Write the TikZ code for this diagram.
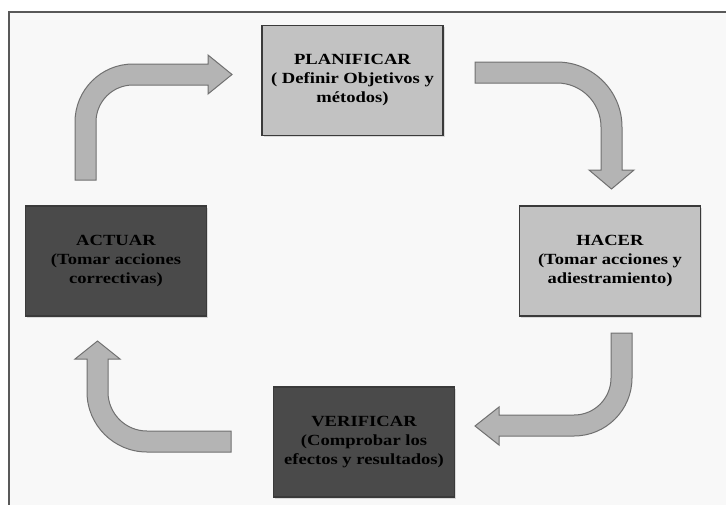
\documentclass[tikz,border=0pt]{standalone}
\usepackage{fontspec}
\setmainfont[FakeStretch=1.2]{Liberation Serif}
\usetikzlibrary{shadows}
\definecolor{bgcol}{HTML}{F8F8F8}
\definecolor{lightfill}{HTML}{C2C2C2}
\definecolor{darkfill}{HTML}{4A4A4A}
\definecolor{boxline}{HTML}{3A3A3A}
\definecolor{arrowfill}{HTML}{B4B4B4}
\definecolor{arrowline}{HTML}{707070}
\begin{document}
\begin{tikzpicture}[x=1pt,y=-1pt,
  phasebox/.style={draw=boxline,line width=1.5pt,minimum width=181pt,minimum height=110pt,
    align=center,font=\fontsize{15.5}{19}\selectfont\bfseries,
    drop shadow={shadow xshift=1.5pt,shadow yshift=-1.5pt,opacity=0.25}},
  lightbox/.style={phasebox,fill=lightfill},
  darkbox/.style={phasebox,fill=darkfill},
  blockarrow/.style={fill=arrowfill,draw=arrowline,line width=1pt,line join=miter}]
\useasboundingbox (0,0) rectangle (726,504);
\filldraw[fill=bgcol,draw=gray!70!black,line width=2pt] (9,12) rectangle (740,520);
\node[lightbox] (plan) at (352.5,80.5) {PLANIFICAR\\( Definir Objetivos y\\métodos)};
\node[lightbox] (hacer) at (610,261) {HACER\\(Tomar acciones y\\adiestramiento)};
\node[darkbox] (actuar) at (116,261) {ACTUAR\\(Tomar acciones\\correctivas)};
\node[darkbox] (verif) at (364,442) {VERIFICAR\\(Comprobar los\\efectos y resultados)};
% actuar -> planificar
\draw[blockarrow] (75,180) -- (75,122) arc[start angle=180,end angle=270,radius=58]
  -- (208,64) -- (208,55) -- (232,74.5) -- (208,94) -- (208,85) -- (133,85)
  arc[start angle=270,end angle=180,radius=37] -- (96,180) -- cycle;
% planificar -> hacer
\draw[blockarrow] (475,62) -- (557,62) arc[start angle=270,end angle=360,radius=65]
  -- (622,170) -- (634,170) -- (611.5,189) -- (589,170) -- (601,170) -- (601,127)
  arc[start angle=0,end angle=-90,radius=44] -- (475,83) -- cycle;
% hacer -> verificar
\draw[blockarrow] (611,333) -- (632,333) -- (632,378) arc[start angle=0,end angle=90,radius=58]
  -- (499,436) -- (499,445) -- (475,426) -- (499,407) -- (499,415) -- (574,415)
  arc[start angle=90,end angle=0,radius=37] -- cycle;
% verificar -> actuar
\draw[blockarrow] (231,431) -- (231,452) -- (147,452) arc[start angle=90,end angle=180,radius=60]
  -- (87,359) -- (75,359) -- (97.5,341) -- (120,359) -- (108,359) -- (108,392)
  arc[start angle=180,end angle=90,radius=39] -- cycle;
\end{tikzpicture}
\end{document}
